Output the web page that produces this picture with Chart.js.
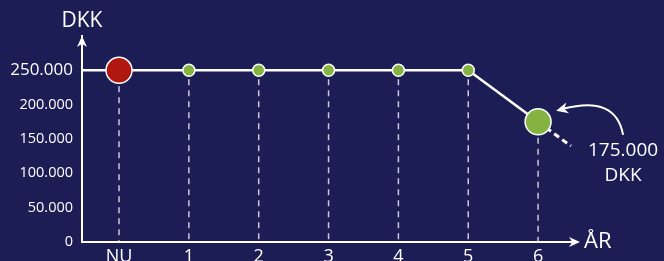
<!DOCTYPE html>
<html>
<head>
<meta charset="utf-8">
<style>
  html, body { margin: 0; padding: 0; background: #1c1d54; }
  canvas { display: block; }
</style>
<script src="https://cdn.jsdelivr.net/npm/chart.js@4.4.1/dist/chart.umd.min.js"></script>
</head>
<body>
<canvas id="myChart" width="664" height="261"></canvas>
<script>
// data
const years = ["NU", "1", "2", "3", "4", "5", "6"];
const values = [250000, 250000, 250000, 250000, 250000, 250000, 175000];
const yTicks = [0, 50000, 100000, 150000, 200000, 250000];
const yTitle = "DKK";
const xTitle = "ÅR";
const unit = "DKK";

const xMin = -0.53, xMax = 6.6;
const yMin = 0, yMax = 300000;
const extensionTo = 6.47; // dashed trend continues a bit past the last year

const white = "#ffffff";
const green = "#84b341";
const red = "#b0180f";
const font = "'Open Sans', 'DejaVu Sans', sans-serif";

function fmt(v) {
    return String(v).replace(/\B(?=(\d{3})+(?!\d))/g, ".");
}

let mainData = [{ x: xMin, y: values[0] }];
for (let i = 0; i < years.length; i++) {
    mainData.push({ x: i, y: values[i] });
}
let last = values.length - 1;
let slope = values[last] - values[last - 1];
let extData = [
    { x: last, y: values[last] },
    { x: extensionTo, y: values[last] + slope * (extensionTo - last) }
];

function arrowHead(c, x, y, ang, len, w) {
    c.save();
    c.translate(x, y);
    c.rotate(ang);
    c.beginPath();
    c.moveTo(0, 0);
    c.lineTo(-len, -w);
    c.lineTo(-len * 0.7, 0);
    c.lineTo(-len, w);
    c.closePath();
    c.fill();
    c.restore();
}

const decor = {
    id: "decor",
    beforeDatasetsDraw(chart) {
        let c = chart.ctx;
        let xs = chart.scales.x, ys = chart.scales.y;
        let base = ys.getPixelForValue(0);
        c.save();
        // dashed drop lines
        c.strokeStyle = "rgba(230,230,240,0.85)";
        c.lineWidth = 1.5;
        c.setLineDash([6, 5]);
        for (let i = 0; i < years.length; i++) {
            let px = xs.getPixelForValue(i);
            let py = ys.getPixelForValue(values[i]);
            let r = (i == 0 || i == last) ? 13 : 6;
            c.beginPath();
            c.moveTo(px, py + r + 3);
            c.lineTo(px, base);
            c.stroke();
        }
        c.restore();
    },
    afterDraw(chart) {
        let c = chart.ctx;
        let a = chart.chartArea;
        let xs = chart.scales.x, ys = chart.scales.y;
        c.save();
        c.fillStyle = white;
        c.strokeStyle = white;
        // axis arrows
        arrowHead(c, a.left, a.top, -Math.PI / 2, 11, 5);
        arrowHead(c, a.right, a.bottom, 0, 11, 5);
        c.beginPath();
        c.lineWidth = 2;
        c.moveTo(a.right - 8, a.bottom);
        c.lineTo(a.left, a.bottom);
        c.stroke();
        // axis titles
        c.font = "21px " + font;
        c.textAlign = "center";
        c.textBaseline = "middle";
        c.fillText(yTitle, a.left, a.top - 15);
        c.textAlign = "left";
        c.font = "22px " + font;
        c.fillText(xTitle, a.right + 4, a.bottom);
        // annotation for last value
        let px = xs.getPixelForValue(last);
        let py = ys.getPixelForValue(values[last]);
        c.lineWidth = 2;
        c.beginPath();
        c.moveTo(px + 85, py + 13);
        c.bezierCurveTo(px + 80, py - 14, px + 60, py - 22, px + 25, py - 13);
        c.stroke();
        arrowHead(c, px + 18, py - 11, Math.PI - 0.25, 12, 5.5);
        c.font = "19px " + font;
        c.textAlign = "center";
        c.fillText(fmt(values[last]), px + 85, py + 29);
        c.fillText(unit, px + 85, py + 54);
        c.restore();
    }
};

let ctx = document.getElementById("myChart").getContext("2d");
let myChart = new Chart(ctx, {
    type: "line",
    data: {
        datasets: [{
            data: mainData,
            borderColor: white,
            borderWidth: 2.5,
            tension: 0,
            pointRadius: c => c.dataIndex == 0 ? 0 : ((c.dataIndex == 1 || c.dataIndex == mainData.length - 1) ? 13 : 6),
            pointBackgroundColor: c => c.dataIndex == 1 ? red : green,
            pointBorderColor: white,
            pointBorderWidth: 1.5
        }, {
            data: extData,
            borderColor: white,
            borderWidth: 3,
            borderDash: [6, 4],
            pointRadius: 0,
            tension: 0
        }]
    },
    options: {
        responsive: false,
        animation: false,
        events: [],
        layout: { padding: { left: 0, top: 36, right: 84, bottom: 0 } },
        plugins: { legend: { display: false }, tooltip: { enabled: false } },
        scales: {
            x: {
                type: "linear",
                min: xMin,
                max: xMax,
                afterBuildTicks: s => { s.ticks = years.map((y, i) => ({ value: i })); },
                afterFit: s => { s.height = 19; },
                grid: { display: false, drawTicks: false },
                border: { display: false },
                ticks: {
                    color: white,
                    padding: 4,
                    autoSkip: false,
                    maxRotation: 0,
                    font: { family: font, size: 18 },
                    callback: v => years[v]
                }
            },
            y: {
                min: yMin,
                max: yMax,
                afterBuildTicks: s => { s.ticks = yTicks.map(v => ({ value: v })); },
                afterFit: s => { s.width = 82; },
                grid: { display: false, drawTicks: false },
                border: { display: true, color: white, width: 2 },
                ticks: {
                    color: white,
                    padding: 9,
                    font: c => ({ family: font, size: c.tick && c.tick.value == 250000 ? 17 : 14.5 }),
                    callback: v => fmt(v)
                }
            }
        }
    },
    plugins: [decor]
});
</script>
</body>
</html>
